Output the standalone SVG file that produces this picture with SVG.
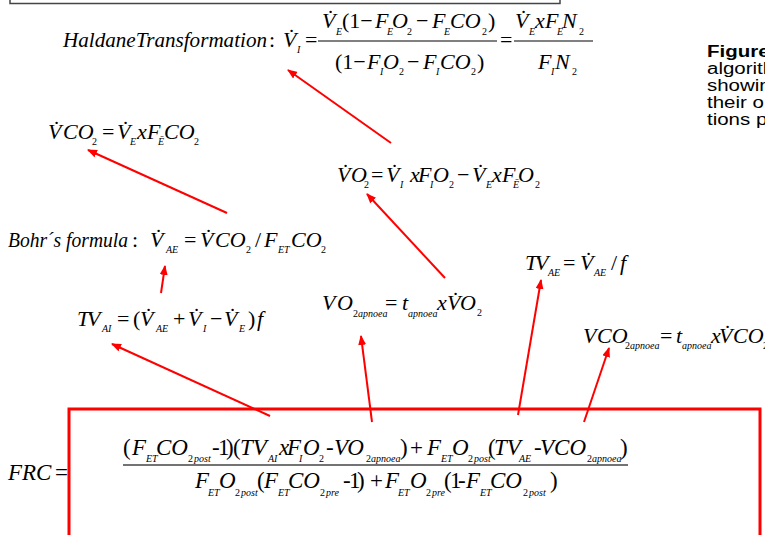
<svg xmlns="http://www.w3.org/2000/svg" width="765" height="535" viewBox="0 0 765 535">
<style>
.f{font-family:"Liberation Serif","Times New Roman",serif;font-style:italic;font-size:22px;fill:#000}
.b{font-size:23px}
.r{font-style:normal}
.s{font-size:10px}
.cap{font-family:"Liberation Sans",Arial,sans-serif;font-size:16px;fill:#000}
.arr{stroke:#f00;stroke-width:2;fill:none;marker-end:url(#ah)}
.fl{stroke:#000;stroke-width:1}
</style>
<defs>
<marker id="ah" markerUnits="userSpaceOnUse" markerWidth="10" markerHeight="8" refX="9" refY="4" orient="auto">
<path d="M0,0 L10,4 L0,8 z" fill="#f00"/>
</marker>
</defs>
<rect width="765" height="535" fill="#fff"/>
<g id="topbox"><path d="M10,-5 L10,3.5 L560,3.5 L560,-5" fill="none" stroke="#444" stroke-width="1.5"/></g>

<g id="haldane">
<text class="f" x="63" y="47" textLength="204" lengthAdjust="spacingAndGlyphs">HaldaneTransformation</text>
<text class="f">
<tspan class="r" x="269" y="47">:</tspan>
<tspan x="283" y="47">V&#x307;</tspan><tspan class="s" x="297" y="53">I</tspan>
<tspan class="r" x="305" y="47">=</tspan>
<tspan x="322" y="28">V&#x307;</tspan><tspan class="s" x="336" y="35">E</tspan>
<tspan class="r" x="342" y="28">(1−</tspan>
<tspan x="375" y="28">F</tspan><tspan class="s" x="387" y="35">E</tspan>
<tspan x="392" y="28">O</tspan><tspan class="s r" x="407" y="35">2</tspan>
<tspan class="r" x="416" y="28">−</tspan>
<tspan x="432" y="28">F</tspan><tspan class="s" x="444" y="35">E</tspan>
<tspan x="450" y="28">CO</tspan><tspan class="s r" x="482" y="35">2</tspan>
<tspan class="r" x="488" y="28">)</tspan>
<tspan class="r" x="335" y="69">(1−</tspan>
<tspan x="367" y="69">F</tspan><tspan class="s" x="380" y="75">I</tspan>
<tspan x="383" y="69">O</tspan><tspan class="s r" x="399" y="75">2</tspan>
<tspan class="r" x="407" y="69">−</tspan>
<tspan x="423" y="69">F</tspan><tspan class="s" x="436" y="75">I</tspan>
<tspan x="440" y="69">CO</tspan><tspan class="s r" x="471" y="75">2</tspan>
<tspan class="r" x="477" y="69">)</tspan>
<tspan class="r" x="500" y="47">=</tspan>
<tspan x="515" y="28">V&#x307;</tspan><tspan class="s" x="529" y="35">E</tspan>
<tspan x="535" y="28">x</tspan>
<tspan x="545" y="28">F</tspan><tspan class="s" x="557" y="35">E</tspan>
<tspan x="562" y="28">N</tspan><tspan class="s r" x="579" y="35">2</tspan>
<tspan x="538" y="69">F</tspan><tspan class="s" x="551" y="75">I</tspan>
<tspan x="555" y="69">N</tspan><tspan class="s r" x="572" y="75">2</tspan>
</text>
<line class="fl" x1="318" y1="41" x2="497" y2="41"/>
<line class="fl" x1="514" y1="41" x2="593" y2="41"/>
</g>

<g id="caption">
<g transform="translate(707 0) scale(1.28 1)">
<text class="cap" x="0" y="57" font-weight="bold">Figure</text>
<text class="cap" x="0" y="74">algorith</text>
<text class="cap" x="0" y="91">showin</text>
<text class="cap" x="0" y="108">their o</text>
<text class="cap" x="0" y="125">tions p</text>
</g>
</g>

<g id="vco2">
<text class="f">
<tspan x="48" y="139">V&#x307;</tspan><tspan x="63" y="139">CO</tspan><tspan class="s r" x="92" y="145">2</tspan>
<tspan class="r" x="102" y="139">=</tspan>
<tspan x="117" y="139">V&#x307;</tspan><tspan class="s" x="130" y="145">E</tspan>
<tspan x="137" y="139">x</tspan>
<tspan x="147" y="139">F</tspan><tspan class="s" x="158" y="145">Ē</tspan>
<tspan x="164" y="139">CO</tspan><tspan class="s r" x="194" y="145">2</tspan>
</text>
</g>

<g id="vo2">
<text class="f">
<tspan x="337" y="182">V&#x307;</tspan><tspan x="351" y="182">O</tspan><tspan class="s r" x="364" y="188">2</tspan>
<tspan class="r" x="371" y="182">=</tspan>
<tspan x="386" y="182">V&#x307;</tspan><tspan class="s" x="400" y="188">I</tspan>
<tspan x="410" y="182">x</tspan>
<tspan x="418" y="182">F</tspan><tspan class="s" x="430" y="188">I</tspan>
<tspan x="433" y="182">O</tspan><tspan class="s r" x="449" y="188">2</tspan>
<tspan class="r" x="457" y="182">−</tspan>
<tspan x="472" y="182">V&#x307;</tspan><tspan class="s" x="486" y="188">E</tspan>
<tspan x="492" y="182">x</tspan>
<tspan x="502" y="182">F</tspan><tspan class="s" x="513" y="188">Ē</tspan>
<tspan x="518" y="182">O</tspan><tspan class="s r" x="535" y="188">2</tspan>
</text>
</g>

<g id="bohr">
<text class="f" x="8" y="247" textLength="120" lengthAdjust="spacingAndGlyphs">Bohr´s formula</text>
<text class="f">
<tspan class="r" x="132" y="247">:</tspan>
<tspan x="150" y="247">V&#x307;</tspan><tspan class="s" x="166" y="253">AE</tspan>
<tspan class="r" x="184" y="247">=</tspan>
<tspan x="200" y="247">V&#x307;</tspan><tspan x="215" y="247">CO</tspan><tspan class="s r" x="246" y="253">2</tspan>
<tspan class="r" x="255" y="247">/</tspan>
<tspan x="264" y="247">F</tspan><tspan class="s" x="278" y="253">ET</tspan>
<tspan x="291" y="247">CO</tspan><tspan class="s r" x="321" y="253">2</tspan>
</text>
</g>

<g id="tvai">
<text class="f">
<tspan x="77" y="326">T</tspan><tspan x="87" y="326">V</tspan><tspan class="s" x="102" y="332">AI</tspan>
<tspan class="r" x="117" y="326">=</tspan>
<tspan class="r" x="133" y="326">(</tspan>
<tspan x="140" y="326">V&#x307;</tspan><tspan class="s" x="156" y="332">AE</tspan>
<tspan class="r" x="173" y="326">+</tspan>
<tspan x="188" y="326">V&#x307;</tspan><tspan class="s" x="203" y="332">I</tspan>
<tspan class="r" x="210" y="326">−</tspan>
<tspan x="224" y="326">V&#x307;</tspan><tspan class="s" x="239" y="332">E</tspan>
<tspan class="r" x="248" y="326">)</tspan>
<tspan x="257" y="326">f</tspan>
</text>
</g>

<g id="vo2apnoea">
<text class="f">
<tspan x="322" y="310">V</tspan><tspan x="337" y="310">O</tspan><tspan class="s r" x="353" y="317">2</tspan><tspan class="s">apnoea</tspan>
<tspan class="r" x="385" y="310">=</tspan>
<tspan x="402" y="310">t</tspan><tspan class="s" x="408" y="317">apnoea</tspan>
<tspan x="437" y="310">x</tspan>
<tspan x="447" y="310">V&#x307;</tspan><tspan x="460" y="310">O</tspan><tspan class="s r" x="477" y="316">2</tspan>
</text>
</g>

<g id="tvae">
<text class="f">
<tspan x="525" y="270">T</tspan><tspan x="535" y="270">V</tspan><tspan class="s" x="548" y="276">AE</tspan>
<tspan class="r" x="563" y="270">=</tspan>
<tspan x="580" y="270">V&#x307;</tspan><tspan class="s" x="594" y="276">AE</tspan>
<tspan class="r" x="611" y="270">/</tspan>
<tspan x="620" y="270">f</tspan>
</text>
</g>

<g id="vco2apnoea">
<text class="f">
<tspan x="583" y="343">V</tspan><tspan x="597" y="343">CO</tspan><tspan class="s r" x="625" y="349">2</tspan><tspan class="s">apnoea</tspan>
<tspan class="r" x="660" y="343">=</tspan>
<tspan x="676" y="343">t</tspan><tspan class="s" x="682" y="349">apnoea</tspan>
<tspan x="711" y="343">x</tspan>
<tspan x="719" y="343">V&#x307;</tspan><tspan x="733" y="343">CO</tspan><tspan class="s r" x="763" y="349">2</tspan>
</text>
</g>

<g id="frc">
<rect x="69" y="409" width="691" height="200" fill="none" stroke="#f00" stroke-width="3"/>
<text class="f b">
<tspan x="8" y="480">FRC</tspan><tspan class="r" x="55" y="480">=</tspan>
<tspan class="r" x="123" y="455">(</tspan>
<tspan x="132" y="455">F</tspan><tspan class="s" x="146" y="462">ET</tspan>
<tspan x="156" y="455">CO</tspan><tspan class="s r" x="188" y="462">2</tspan><tspan class="s" x="194" y="462">post</tspan>
<tspan class="r" x="212" y="455">-</tspan><tspan class="r" x="218" y="455">1</tspan><tspan class="r" x="226" y="455">)</tspan><tspan class="r" x="233" y="455">(</tspan>
<tspan x="240" y="455">TV</tspan><tspan class="s" x="268" y="462">AI</tspan>
<tspan x="279" y="455">x</tspan>
<tspan x="287" y="455">F</tspan><tspan class="s" x="299" y="462">I</tspan>
<tspan x="303" y="455">O</tspan><tspan class="s r" x="319" y="462">2</tspan>
<tspan class="r" x="326" y="455">-</tspan>
<tspan x="334" y="455">VO</tspan><tspan class="s r" x="366" y="462">2</tspan><tspan class="s">apnoea</tspan>
<tspan class="r" x="400" y="455">)</tspan>
<tspan class="r" x="410" y="455">+</tspan>
<tspan x="427" y="455">F</tspan><tspan class="s" x="441" y="462">ET</tspan>
<tspan x="452" y="455">O</tspan><tspan class="s r" x="468" y="462">2</tspan><tspan class="s" x="474" y="462">post</tspan>
<tspan class="r" x="488" y="455">(</tspan>
<tspan x="494" y="455">TV</tspan><tspan class="s" x="519" y="462">AE</tspan>
<tspan class="r" x="534" y="455">-</tspan>
<tspan x="540" y="455">VCO</tspan><tspan class="s r" x="587" y="462">2</tspan><tspan class="s">apnoea</tspan>
<tspan class="r" x="620" y="455">)</tspan>
<tspan x="195" y="488">F</tspan><tspan class="s" x="208" y="496">ET</tspan>
<tspan x="219" y="488">O</tspan><tspan class="s r" x="235" y="496">2</tspan><tspan class="s" x="241" y="496">post</tspan>
<tspan class="r" x="257" y="488">(</tspan>
<tspan x="264" y="488">F</tspan><tspan class="s" x="278" y="496">ET</tspan>
<tspan x="288" y="488">CO</tspan><tspan class="s r" x="320" y="496">2</tspan><tspan class="s" x="326" y="496">pre</tspan>
<tspan class="r" x="343" y="488">-</tspan><tspan class="r" x="349" y="488">1</tspan><tspan class="r" x="357" y="488">)</tspan>
<tspan class="r" x="370" y="488">+</tspan>
<tspan x="385" y="488">F</tspan><tspan class="s" x="398" y="496">ET</tspan>
<tspan x="410" y="488">O</tspan><tspan class="s r" x="426" y="496">2</tspan><tspan class="s" x="432" y="496">pre</tspan>
<tspan class="r" x="444" y="488">(</tspan><tspan class="r" x="450" y="488">1</tspan><tspan class="r" x="458" y="488">-</tspan>
<tspan x="466" y="488">F</tspan><tspan class="s" x="480" y="496">ET</tspan>
<tspan x="490" y="488">CO</tspan><tspan class="s r" x="523" y="496">2</tspan><tspan class="s" x="529" y="496">post</tspan>
<tspan class="r" x="550" y="488">)</tspan>
</text>
<line x1="123" y1="465" x2="628" y2="465" stroke="#444" stroke-width="1.5"/>
</g>

<g id="connectors">
<line class="arr" x1="391" y1="143" x2="288" y2="70"/>
<line class="arr" x1="227" y1="213" x2="88" y2="150"/>
<line class="arr" x1="445" y1="278" x2="367" y2="194"/>
<line class="arr" x1="161" y1="293" x2="165" y2="266"/>
<line class="arr" x1="270" y1="416" x2="112" y2="344"/>
<line class="arr" x1="372" y1="422" x2="361" y2="336"/>
<line class="arr" x1="518" y1="415" x2="541" y2="280"/>
<line class="arr" x1="584" y1="422" x2="609" y2="348"/>
</g>
</svg>
